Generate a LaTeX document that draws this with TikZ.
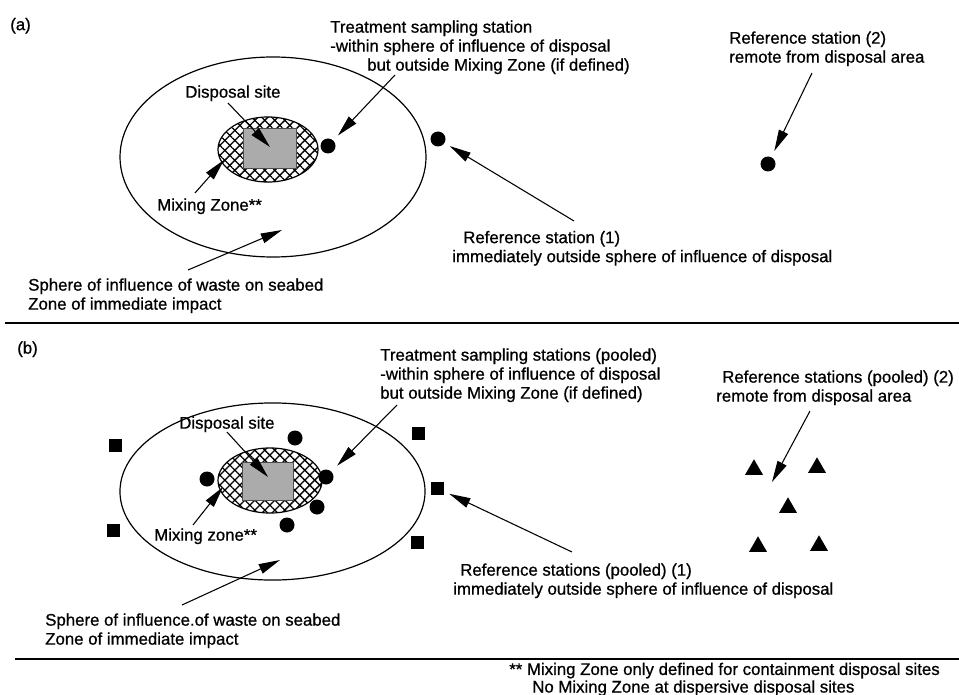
\documentclass[tikz,border=0pt]{standalone}
\usepackage{fontspec}
\setmainfont{Liberation Sans}[UprightFeatures={FakeBold=0.8}]
\usetikzlibrary{arrows.meta,patterns.meta,shapes.geometric}
\begin{document}
\begin{tikzpicture}[x=0.75pt,y=-0.75pt,
  lbl/.style={anchor=north west,inner sep=0pt,align=left,font=\fontsize{12.6}{14.25}\selectfont},
  arr/.style={line width=0.8pt,-{Triangle[length=16pt,width=7.5pt]}},
  zone/.style={line width=0.9pt},
  hatchA/.style={pattern={Lines[angle=45,distance=5.3pt,line width=1pt]}},
  hatchB/.style={pattern={Lines[angle=-45,distance=5.3pt,line width=1pt]}},
  site/.style={fill=black!33,draw=black!70,line width=0.5pt},
  dotst/.style={circle,fill=black,inner sep=0pt,minimum size=11.25pt},
  sqst/.style={rectangle,fill=black,inner sep=0pt,minimum size=9.75pt},
  trist/.style={regular polygon,regular polygon sides=3,fill=black,inner sep=0pt,minimum size=15.5pt},
  rule/.style={line width=1pt}
]
\useasboundingbox (0,0) rectangle (959,695);

% ================= panel (a) =================
\node[lbl] (labA) at (10,17.7) {(a)};
\draw[zone] (273,157) ellipse [x radius=114.75pt, y radius=75pt];
\path[hatchA] (268,149.5) ellipse [x radius=37.5pt, y radius=24.4pt];
\path[hatchB] (268,149.5) ellipse [x radius=37.5pt, y radius=24.4pt];
\draw[zone] (268,149.5) ellipse [x radius=37.5pt, y radius=24.4pt];
\draw[site] (243,128) rectangle (296,168);

\node[dotst] (taA) at (328,146) {};
\node[dotst] (r1A) at (438,139) {};
\node[dotst] (r2A) at (768,164) {};

\node[lbl] (treatA) at (330,20.2) {Treatment sampling station\\-within sphere of influence of disposal\\\hspace*{27.75pt}but outside Mixing Zone (if defined)};
\node[lbl] (dispA) at (185,85.2) {Disposal site};
\node[lbl] (mixA) at (157,198.2) {Mixing Zone**};
\node[lbl] (ref2A) at (729,31.2) {Reference station (2)\\remote from disposal area};
\node[lbl] (ref1A) at (452,230.7) {\hspace*{8.25pt}Reference station (1)\\immediately outside sphere of influence of disposal};
\node[lbl] (sphA) at (28,278.2) {Sphere of influence of waste on seabed\\Zone of immediate impact};

\coordinate (dispAt) at (228,103);
\coordinate (dispAh) at (270,147);
\coordinate (mixAt) at (195,193);
\coordinate (mixAh) at (224,160);
\coordinate (treatAt) at (395,75);
\coordinate (ref1At) at (574,221);
\coordinate (ref2At) at (812,73);
\coordinate (sphAt) at (188,270);
\coordinate (sphAh) at (282,230);

\draw[arr] (dispAt) -- (dispAh);
\draw[arr] (mixAt) -- (mixAh);
\draw[arr,shorten >=5pt] (treatAt) -- (taA);
\draw[arr,shorten >=4.5pt] (ref1At) -- (r1A);
\draw[arr,shorten >=5pt] (ref2At) -- (r2A);
\draw[arr] (sphAt) -- (sphAh);

\draw[rule] (5,323) -- (959,323);

% ================= panel (b) =================
\node[lbl] (labB) at (17,341.2) {(b)};
\draw[zone] (272.5,491.5) ellipse [x radius=114.4pt, y radius=66.4pt];
\path[hatchA] (270,480.5) ellipse [x radius=39pt, y radius=24.4pt];
\path[hatchB] (270,480.5) ellipse [x radius=39pt, y radius=24.4pt];
\draw[zone] (270,480.5) ellipse [x radius=39pt, y radius=24.4pt];
\draw[site] (242,462) rectangle (293,500);

\node[dotst] (tb1) at (295,438) {};
\node[dotst] (tb2) at (207,479) {};
\node[dotst] (tb3) at (326,477) {};
\node[dotst] (tb4) at (317,507) {};
\node[dotst] (tb5) at (287,525) {};

\node[sqst] (sq1) at (115,445) {};
\node[sqst] (sq2) at (113,530) {};
\node[sqst] (sq3) at (418,433) {};
\node[sqst] (sq4) at (437,488) {};
\node[sqst] (sq5) at (417,542) {};

\node[trist] (tr1) at (754,469.6) {};
\node[trist] (tr2) at (817,467.6) {};
\node[trist] (tr3) at (788,507.6) {};
\node[trist] (tr4) at (758,546.6) {};
\node[trist] (tr5) at (819,545.6) {};

\node[lbl] (treatB) at (380,348.2) {Treatment sampling stations (pooled)\\-within sphere of influence of disposal\\but outside Mixing Zone (if defined)};
\node[lbl] (dispB) at (179,416.2) {Disposal site};
\node[lbl] (mixB) at (154,528.2) {Mixing zone**};
\node[lbl] (ref2B) at (716,370.2) {\hspace*{4.5pt}Reference stations (pooled) (2)\\remote from disposal area};
\node[lbl] (ref1B) at (453,563.2) {\hspace*{5.25pt}Reference stations (pooled) (1)\\immediately outside sphere of influence of disposal};
\node[lbl] (sphB) at (45,613.2) {Sphere of influence.of waste on seabed\\Zone of immediate impact};

\coordinate (dispBt) at (227,432);
\coordinate (dispBh) at (268,477);
\coordinate (mixBt) at (193,525);
\coordinate (mixBh) at (223,487);
\coordinate (treatBt) at (397,405);
\coordinate (ref1Bt) at (572,552);
\coordinate (ref2Bt) at (810,411);
\coordinate (ref2Bh) at (772,482);
\coordinate (sphBt) at (182,605);
\coordinate (sphBh) at (280,560);

\draw[arr] (dispBt) -- (dispBh);
\draw[arr] (mixBt) -- (mixBh);
\draw[arr,shorten >=6pt] (treatBt) -- (tb3);
\draw[arr,shorten >=4.5pt] (ref1Bt) -- (sq4);
\draw[arr] (ref2Bt) -- (ref2Bh);
\draw[arr] (sphBt) -- (sphBh);

\draw[rule] (15,659) -- (959,659);

% ================= footnote =================
\node[lbl,font=\fontsize{12.6}{13.2}\selectfont] (foot) at (509,662.5) {** Mixing Zone only defined for containment disposal sites\\\hspace*{17.25pt}No Mixing Zone at dispersive disposal sites};
\end{tikzpicture}
\end{document}
